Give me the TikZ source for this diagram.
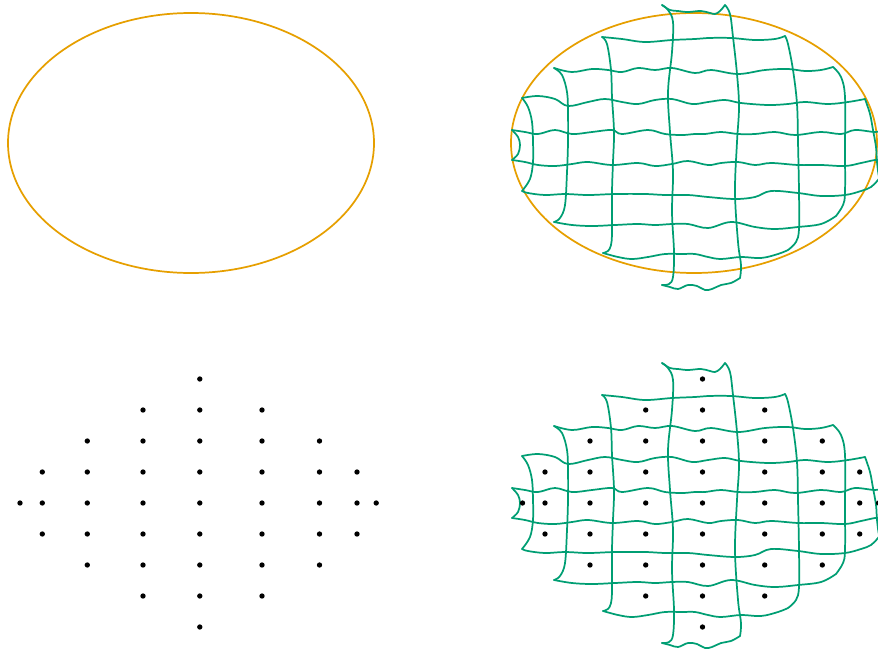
\documentclass[tikz,border=0pt]{standalone}
\definecolor{orng}{HTML}{E69F00}
\definecolor{grn}{HTML}{009E73}
\tikzset{
  ell/.style={draw=orng, line width=1.3pt},
  wline/.style={draw=grn, line width=1.3pt, line join=round, line cap=round},
  dotmark/.style={fill=black},
}
\newcommand\wavegrid{%
  % vertical boundaries
  \draw[wline] plot[smooth, tension=0.6] coordinates {(512,488) (518,495) (520,503) (518,512) (512,518)};
  \draw[wline] plot[smooth, tension=0.6] coordinates {(522,456) (528,465) (532,480) (533,500) (533,520) (530,537) (522,549)};
  \draw[wline] plot[smooth, tension=0.6] coordinates {(554,426) (562,433) (567,450) (568,470) (568,500) (567,530) (565,563) (560,576) (554,580)};
  \draw[wline] plot[smooth, tension=0.6] coordinates {(602,395) (607,402) (611,428) (612,455) (614,490) (613,520) (612,550) (612,590) (611,603) (608,609) (603,611)};
  \draw[wline] plot[smooth, tension=0.6] coordinates {(662,363) (668,368) (673,380) (672,410) (668,450) (670,490) (673,530) (672,570) (674,610) (673,635) (669,642) (662,643)};
  \draw[wline] plot[smooth, tension=0.6] coordinates {(725,363) (730,372) (733,395) (737,432) (739,465) (737,500) (735,550) (738,600) (741,623) (740,636)};
  \draw[wline] plot[smooth, tension=0.6] coordinates {(785,394) (788,402) (793,428) (797,462) (798,500) (799,550) (799,587) (796,600) (788,608)};
  \draw[wline] plot[smooth, tension=0.6] coordinates {(833,425) (841,435) (845,455) (845,505) (845,550) (843,563) (836,574)};
  \draw[wline] plot[smooth, tension=0.6] coordinates {(865,457) (870,472) (873,488) (876,505) (877,520) (879,535) (882,545)};
  % horizontal lines
  \draw[wline] plot[smooth, tension=0.6] coordinates {(662,363) (670,368) (678,369) (688,370) (701,369) (710,371) (715,372) (720,369) (725,363)};
  \draw[wline] plot[smooth, tension=0.6] coordinates {(602,395) (622,397) (645,400) (672,398) (695,397) (708,396) (731,396) (755,398) (775,397) (785,394)};
  \draw[wline] plot[smooth, tension=0.6] coordinates {(554,426) (572,430) (592,427) (608,428) (622,430) (638,426) (655,428) (672,426) (695,431) (711,428) (738,432) (765,428) (788,427) (805,429) (821,428) (833,425)};
  \draw[wline] plot[smooth, tension=0.6] coordinates {(522,456) (538,454) (555,457) (568,464) (588,460) (605,457) (622,460) (638,462) (655,458) (672,457) (692,462) (708,460) (725,458) (741,461) (768,463) (788,462) (805,460) (828,462) (848,460) (865,457)};
  \draw[wline] plot[smooth, tension=0.6] coordinates {(512,488) (525,490) (538,492) (555,488) (572,492) (592,490) (612,488) (622,492) (648,488) (665,492) (682,493) (695,492) (705,492) (721,490) (738,492) (755,492) (775,490) (795,493) (821,490) (841,492) (855,488) (875,490) (882,488)};
  \draw[wline] plot[smooth, tension=0.6] coordinates {(512,518) (525,520) (538,523) (555,524) (572,522) (588,520) (612,523) (638,521) (655,524) (672,522) (688,519) (708,523) (721,521) (738,520) (755,523) (771,521) (798,523) (821,523) (845,524) (861,521) (875,518) (882,518)};
  \draw[wline] plot[smooth, tension=0.6] coordinates {(522,549) (528,551) (545,553) (565,552) (588,553) (615,552) (645,552) (665,553) (688,553) (708,555) (735,557) (755,555) (771,549) (798,551) (821,554) (845,553) (861,549) (871,545) (878,538) (882,532)};
  \draw[wline] plot[smooth, tension=0.6] coordinates {(554,580) (572,583) (592,584) (615,583) (638,582) (655,583) (672,582) (688,582) (708,586) (731,580) (755,585) (775,587) (798,585) (821,582) (836,574)};
  \draw[wline] plot[smooth, tension=0.6] coordinates {(603,611) (618,615) (632,617) (648,615) (665,612) (682,612) (695,612) (708,615) (721,617) (741,615) (761,616) (778,612) (788,608)};
  \draw[wline] plot[smooth, tension=0.6] coordinates {(662,643) (670,645) (678,647) (688,643) (697,644) (705,648) (712,647) (721,643) (731,641) (740,636)};
}
\newcommand\dotset[1]{%
  \foreach \xx/\lo/\hi in {#1}{
    \foreach \kk in {\lo,...,\hi}{
      \fill[dotmark] (\xx,{379+31*\kk}) circle[radius=2pt];
    }
  }%
}
\begin{document}
\begin{tikzpicture}[x=0.75pt, y=-0.75pt]
  \path[use as bounding box] (0,0) rectangle (878,650);
  \clip (0,0) rectangle (878,650);
  % top left ellipse
  \draw[ell] (191,143) ellipse [x radius=137.25pt, y radius=97.5pt];
  % top right ellipse with grid
  \draw[ell] (694,143) ellipse [x radius=137.25pt, y radius=97.5pt];
  \begin{scope}[shift={(0,-358)}]
    \wavegrid
  \end{scope}
  % bottom right grid
  \wavegrid
  % bottom left dots
  \dotset{20/4/4, 42.3/3/5, 87.3/2/6, 143/1/7, 199.8/0/8, 262/1/7, 319.5/2/6, 357/3/5, 376.2/4/4}
  % bottom right dots
  \dotset{522.5/4/4, 545/3/5, 590/2/6, 645.7/1/7, 702.5/0/8, 764.7/1/7, 822.3/2/6, 859.7/3/5, 878.5/4/4}
\end{tikzpicture}
\end{document}
